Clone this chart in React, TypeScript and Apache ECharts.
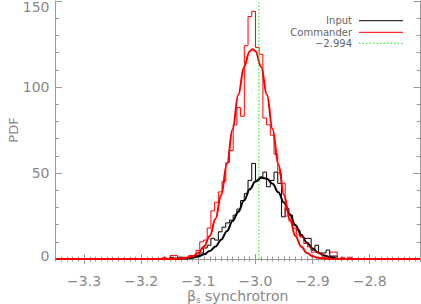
import React, { useEffect, useRef } from "react";
import * as echarts from "echarts";

const X_MIN = -3.35;
const X_MAX = -2.712;
const Y_MIN = 0;
const Y_MAX = 150;
const X_MAJOR_TICKS = [-3.3, -3.2, -3.1, -3.0, -2.9, -2.8];
const REF_VALUE = -2.994;
const LEGEND_LABELS = ["Input", "Commander", "\u22122.994"];

const BIN_START = -3.1625;
const BIN_WIDTH = 0.0065;

const commanderCounts = [
  1, 0, 2, 2, 1, 0, 1, 2, 2, 5,
  10, 11, 18, 28, 33, 39, 45, 56, 63, 78,
  88, 83, 124, 141, 144, 123, 119, 82, 78, 72,
  61, 50, 44, 25, 22, 18, 14, 13, 9, 7,
  4, 4, 3, 1, 1, 4, 4, 0, 1, 0,
  1, 0,
];

const inputCounts = [
  0, 0, 1, 0, 1, 1, 0, 1, 1, 2,
  3.5, 6.4, 8, 12, 11, 15.8, 18.5, 21, 22.6, 25.5,
  29, 34, 38, 45.7, 55.6, 45.7, 47.7, 50.5, 42, 45.7,
  50.5, 44, 24.5, 29.5, 25.5, 19.7, 16.8, 12.9, 12, 12,
  5.2, 8, 3.5, 3.5, 5.2, 1.7, 1.7, 0, 0, 0,
  0, 0,
];

const commanderFitX = [
  -3.35, -3.2, -3.15, -3.14, -3.13, -3.12, -3.11, -3.1, -3.09, -3.08,
  -3.07, -3.06, -3.05, -3.04, -3.03, -3.02, -3.01, -3.005, -3.0, -2.99,
  -2.98, -2.97, -2.96, -2.95, -2.94, -2.93, -2.92, -2.91, -2.9, -2.89,
  -2.88, -2.87, -2.86, -2.8, -2.712,
];
const commanderFit = [
  0, 0, 0.03, 0.1, 0.27, 0.68, 1.6, 3.5, 7.2, 13.4,
  23.3, 37.2, 55.1, 75.4, 95.5, 111.7, 120.8, 122, 120.8, 111.7,
  95.5, 75.4, 55.1, 37.2, 23.3, 13.4, 7.2, 3.5, 1.6, 0.68,
  0.27, 0.1, 0.03, 0, 0,
];

const inputFitX = [
  -3.14, -3.13, -3.12, -3.11, -3.1, -3.09, -3.08, -3.07, -3.06, -3.05,
  -3.04, -3.03, -3.02, -3.01, -3.0, -2.99, -2.98, -2.97, -2.96, -2.95,
  -2.94, -2.93, -2.92, -2.91, -2.9, -2.89, -2.88, -2.87, -2.86,
];
const inputFit = [
  0.08, 0.19, 0.4, 0.79, 1.5, 2.7, 4.6, 7.3, 11.2, 16.2,
  22.1, 27.5, 34, 40.5, 45, 47.2, 46.7, 43.7, 38.8, 32.7,
  26, 19.6, 14.1, 9.5, 6.1, 3.7, 2.1, 1.2, 0.6,
];

const AXIS_COLOR = "#999999";
const TEXT_COLOR = "#888888";
const FONT = "DejaVu Sans";

function stepData(counts: number[]) {
  const d: number[][] = [[BIN_START, 0]];
  counts.forEach((c, i) => d.push([BIN_START + i * BIN_WIDTH, c]));
  d.push([BIN_START + counts.length * BIN_WIDTH, 0]);
  return d;
}

function pairs(xs: number[], ys: number[]) {
  return xs.map((x, i) => [x, ys[i]]);
}

const fmtX = (v: number) => v.toFixed(1).replace("-", "\u2212");

export default function App() {
  const ref = useRef<HTMLDivElement>(null);
  useEffect(() => {
    if (!ref.current) return;
    const chart = echarts.init(ref.current, undefined, { renderer: "svg" });
    const gridRect = { left: 55.5, top: 1, right: 1, bottom: 45 };
    const lineAxis = { show: true, lineStyle: { color: AXIS_COLOR, width: 1 } };
    const majorX = (pos: string, labels: boolean) => ({
      gridIndex: 0,
      type: "value",
      position: pos,
      min: X_MIN,
      max: X_MAX,
      axisLine: lineAxis,
      axisTick: {
        show: true,
        inside: true,
        length: 5,
        customValues: X_MAJOR_TICKS,
        lineStyle: { color: AXIS_COLOR },
      },
      axisLabel: labels
        ? {
            show: true,
            customValues: X_MAJOR_TICKS,
            formatter: (v: number) => fmtX(v),
            margin: 15,
            color: TEXT_COLOR,
            fontFamily: FONT,
            fontSize: 14,
          }
        : { show: false },
      splitLine: { show: false },
    });
    const minorX = (pos: string) => ({
      gridIndex: 1,
      type: "value",
      position: pos,
      min: X_MIN,
      max: X_MAX,
      interval: 0.01,
      axisLine: { show: false },
      axisTick: { show: true, inside: true, length: 2.5, lineStyle: { color: AXIS_COLOR } },
      axisLabel: { show: false },
      splitLine: { show: false },
    });
    const majorY = (pos: string, labels: boolean) => ({
      gridIndex: 0,
      type: "value",
      position: pos,
      min: Y_MIN,
      max: Y_MAX,
      interval: 50,
      axisLine: lineAxis,
      axisTick: { show: true, inside: true, length: 6.5, lineStyle: { color: AXIS_COLOR } },
      axisLabel: labels
        ? {
            show: true,
            margin: 6,
            color: TEXT_COLOR,
            fontFamily: FONT,
            fontSize: 14,
            formatter: (v: number) =>
              v === Y_MIN ? "{lo|" + v + "}" : v === Y_MAX ? "{hi|" + v + "}" : "" + v,
            rich: {
              lo: { color: TEXT_COLOR, fontFamily: FONT, fontSize: 14, padding: [0, 0, 7, 0] },
              hi: { color: TEXT_COLOR, fontFamily: FONT, fontSize: 14, padding: [12, 0, 0, 0] },
            },
          }
        : { show: false },
      splitLine: { show: false },
    });
    const minorY = (pos: string) => ({
      gridIndex: 1,
      type: "value",
      position: pos,
      min: Y_MIN,
      max: Y_MAX,
      interval: 10,
      axisLine: { show: false },
      axisTick: { show: true, inside: true, length: 3.3, lineStyle: { color: AXIS_COLOR } },
      axisLabel: { show: false },
      splitLine: { show: false },
    });

    const xMain: any = majorX("bottom", true);
    xMain.name = "{b|\u03b2}{s|s} synchrotron";
    xMain.nameLocation = "middle";
    xMain.nameGap = 28;
    xMain.nameMoveOverlap = false;
    xMain.nameTextStyle = {
      color: TEXT_COLOR,
      fontFamily: FONT,
      fontSize: 14,
      rich: {
        b: { color: TEXT_COLOR, fontFamily: FONT, fontSize: 14 },
        s: { color: TEXT_COLOR, fontFamily: FONT, fontSize: 9, padding: [8, 0, 0, 0] },
      },
    };
    const yMain: any = majorY("left", true);
    yMain.name = "PDF";
    yMain.nameLocation = "middle";
    yMain.nameGap = 36;
    yMain.nameMoveOverlap = false;
    yMain.nameTextStyle = { color: TEXT_COLOR, fontFamily: FONT, fontSize: 13 };

    const legendY = [20.7, 32.3, 43.3];
    const legendColors = ["#000000", "#ff0000", "#00ff00"];
    const graphic: any[] = [];
    LEGEND_LABELS.forEach((t, i) => {
      graphic.push({
        type: "text",
        x: 352,
        y: legendY[i],
        style: {
          text: t,
          align: "right",
          verticalAlign: "middle",
          fill: "#666666",
          font: "10px DejaVu Sans",
        },
      });
      graphic.push({
        type: "line",
        shape: { x1: 359, y1: legendY[i], x2: 403, y2: legendY[i] },
        style: {
          stroke: legendColors[i],
          lineWidth: 1,
          lineDash: i === 2 ? [1.5, 2] : null,
        },
      });
    });

    const option: any = {
      animation: false,
      backgroundColor: "#ffffff",
      grid: [
        { ...gridRect, outerBoundsMode: "none" },
        { ...gridRect, outerBoundsMode: "none" },
      ],
      xAxis: [majorX("top", false), minorX("bottom"), minorX("top"), xMain],
      yAxis: [majorY("right", false), minorY("left"), minorY("right"), yMain],
      series: [
        {
          type: "line",
          xAxisIndex: 3,
          yAxisIndex: 3,
          data: stepData(inputCounts),
          step: "end",
          symbol: "none",
          lineStyle: { color: "#000000", width: 1 },
        },
        {
          type: "line",
          xAxisIndex: 3,
          yAxisIndex: 3,
          data: pairs(inputFitX, inputFit),
          smooth: 0.4,
          smoothMonotone: "x",
          symbol: "none",
          lineStyle: { color: "#000000", width: 2 },
        },
        {
          type: "line",
          xAxisIndex: 3,
          yAxisIndex: 3,
          data: stepData(commanderCounts),
          step: "end",
          symbol: "none",
          lineStyle: { color: "#ff0000", width: 1 },
        },
        {
          type: "line",
          xAxisIndex: 3,
          yAxisIndex: 3,
          data: pairs(commanderFitX, commanderFit),
          smooth: 0.4,
          smoothMonotone: "x",
          symbol: "none",
          lineStyle: { color: "#ff0000", width: 2 },
        },
        {
          type: "line",
          xAxisIndex: 3,
          yAxisIndex: 3,
          data: [
            [REF_VALUE, Y_MIN],
            [REF_VALUE, Y_MAX],
          ],
          symbol: "none",
          lineStyle: { color: "#00ff00", width: 1, type: [1.5, 2] },
        },
      ],
      graphic,
    };
    chart.setOption(option);
    return () => chart.dispose();
  }, []);
  return (
    <div
      ref={ref}
      style={{ position: "fixed", left: 0, top: 0, width: 421, height: 304 }}
    />
  );
}
